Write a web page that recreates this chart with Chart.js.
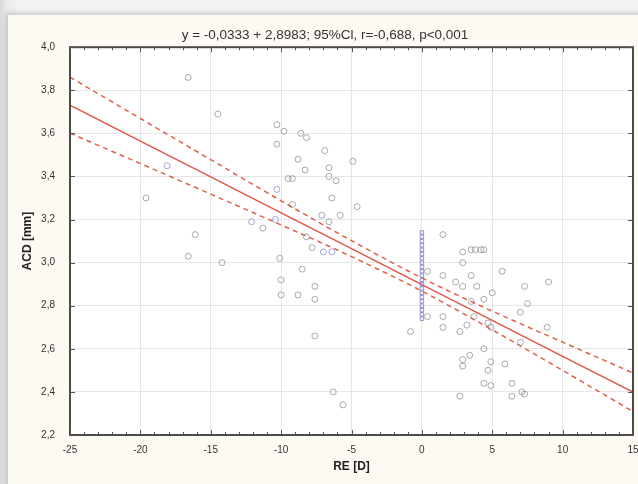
<!DOCTYPE html>
<html>
<head>
<meta charset="utf-8">
<script src="https://cdn.jsdelivr.net/npm/chart.js@4.4.1/dist/chart.umd.min.js"></script>
<style>
  html, body { margin:0; padding:0; }
  body { width:638px; height:484px; overflow:hidden; position:relative;
         background: linear-gradient(90deg, #d9d9d9 0px, #ececec 8px, #f3f3f3 20px); }
  #panel { position:absolute; left:8px; top:15px; width:640px; height:480px;
           background:#fcfaf2; box-shadow: -2px -2px 5px rgba(0,0,0,0.18); }
  #wrap { position:absolute; left:0; top:0; width:638px; height:484px; }
</style>
</head>
<body>
<div id="panel"></div>
<div id="wrap"><canvas id="c" width="638" height="484"></canvas></div>
<script>
// ---- Data ----
const titleText = 'y = -0,0333 + 2,8983; 95%Cl, r=-0,688, p<0,001';
const xTickLabels = ['-25','-20','-15','-10','-5','0','5','10','15'];
const yTickLabels = ['2,2','2,4','2,6','2,8','3,0','3,2','3,4','3,6','3,8','4,0'];

const greyX = [-16.6,-14.5,-19.6,-16.1,-16.6,-14.2,
  -10.3,-9.8,-8.6,-8.2,-10.3,-6.9,-8.8,-4.9,-8.3,-6.6,-9.5,-9.2,-6.6,-6.1,-6.4,-9.2,-4.6,-11.3,-7.1,-5.8,-6.6,-8.2,-7.8,-10.1,-8.5,-10.0,-7.6,-7.6,-10.0,-8.8,-7.6,-6.3,-5.6,
  1.5,2.9,3.5,3.8,4.2,4.4,2.9,0.4,1.5,5.7,3.5,2.4,2.9,3.9,7.3,9.0,5.0,4.4,3.5,7.5,7.0,0.4,1.5,3.7,1.5,3.2,2.7,-0.8,4.7,4.9,8.9,7.0,4.4,2.9,3.4,4.9,4.7,5.9,2.9,4.4,4.9,6.4,7.1,7.3,6.4,2.7];
const greyY = [3.86,3.69,3.30,3.13,3.03,3.00,
  3.64,3.61,3.60,3.58,3.55,3.52,3.48,3.47,3.43,3.44,3.39,3.39,3.40,3.38,3.30,3.27,3.26,3.16,3.22,3.22,3.19,3.12,3.07,3.02,2.97,2.92,2.89,2.83,2.85,2.85,2.66,2.40,2.34,
  3.13,3.05,3.06,3.06,3.06,3.06,3.00,2.96,2.94,2.96,2.94,2.91,2.89,2.89,2.89,2.91,2.86,2.83,2.82,2.81,2.77,2.75,2.75,2.75,2.70,2.71,2.68,2.68,2.72,2.70,2.70,2.63,2.60,2.55,2.57,2.54,2.50,2.53,2.52,2.44,2.43,2.44,2.40,2.39,2.38,2.38];

const blueX = [-18.1,-12.1,-10.3,-10.4,-7.0,-6.4];
const blueY = [3.45,3.19,3.34,3.20,3.05,3.05];

const zeroColY = [2.74,2.76,2.78,2.80,2.82,2.84,2.86,2.88,2.90,2.92,2.94,2.96,2.98,3.00,3.02,3.04,3.06,3.08,3.10,3.12,3.14];

const lineX  = [-25,-20,-15,-10,-5,0,5,10,15];
const fitY   = [3.731,3.564,3.398,3.231,3.065,2.898,2.732,2.565,2.399];
const upperY = [3.861,3.669,3.478,3.287,3.102,2.929,2.775,2.631,2.488];
const lowerY = [3.601,3.460,3.318,3.175,3.028,2.868,2.688,2.500,2.309];

// ---- build datasets ----
const pts = (xs, ys) => xs.map((x, i) => ({x, y: ys[i]}));
const greyPts = pts(greyX, greyY);
const bluePts = pts(blueX, blueY);
const zeroPts = zeroColY.map(y => ({x: 0, y}));
const fitPts = pts(lineX, fitY);
const upPts = pts(lineX, upperY);
const loPts = pts(lineX, lowerY);

const FONT = 'Liberation Sans, Arial, sans-serif';

const frame = {
  id: 'frame',
  beforeDraw(chart) {
    const {ctx, chartArea: a} = chart;
    ctx.save();
    ctx.fillStyle = '#ffffff';
    ctx.fillRect(a.left, a.top, a.right - a.left, a.bottom - a.top);
    ctx.restore();
  },
  afterDraw(chart) {
    const {ctx, chartArea: a, scales} = chart;
    ctx.save();
    ctx.strokeStyle = '#4a4a4a';
    ctx.lineWidth = 2;
    ctx.strokeRect(a.left, a.top, a.right - a.left, a.bottom - a.top);
    ctx.lineWidth = 1;
    ctx.strokeStyle = '#555';
    ctx.beginPath();
    for (let v = -25; v <= 15; v += 1) {
      const px = Math.round(scales.x.getPixelForValue(v)) + 0.5;
      const len = (v % 5 === 0) ? 5 : 3;
      ctx.moveTo(px, a.bottom); ctx.lineTo(px, a.bottom - len);
      ctx.moveTo(px, a.top); ctx.lineTo(px, a.top + len);
    }
    for (let i = 0; i < yTickLabels.length; i++) {
      const py = Math.round(scales.y.getPixelForValue(2.2 + 0.2 * i)) + 0.5;
      ctx.moveTo(a.left, py); ctx.lineTo(a.left + 5, py);
      ctx.moveTo(a.right, py); ctx.lineTo(a.right - 5, py);
    }
    ctx.stroke();
    ctx.restore();
  }
};

new Chart(document.getElementById('c'), {
  type: 'scatter',
  data: {
    datasets: [
      { data: greyPts, pointStyle: 'circle', pointRadius: 3, borderWidth: 1,
        borderColor: 'rgba(140,140,150,0.75)', backgroundColor: 'rgba(0,0,0,0)' },
      { data: bluePts, pointStyle: 'circle', pointRadius: 3, borderWidth: 1,
        borderColor: 'rgba(140,145,215,0.8)', backgroundColor: 'rgba(0,0,0,0)' },
      { data: zeroPts, pointStyle: 'rect', pointRadius: 2.5, borderWidth: 1,
        borderColor: 'rgba(120,120,200,0.8)', backgroundColor: 'rgba(0,0,0,0)' },
      { type: 'line', data: fitPts, showLine: true, pointRadius: 0, borderWidth: 1.5,
        borderColor: '#e0574a', fill: false },
      { type: 'line', data: upPts, showLine: true, pointRadius: 0, borderWidth: 1.5,
        borderColor: '#e2604a', borderDash: [5, 4], cubicInterpolationMode: 'monotone', fill: false },
      { type: 'line', data: loPts, showLine: true, pointRadius: 0, borderWidth: 1.5,
        borderColor: '#e2604a', borderDash: [5, 4], cubicInterpolationMode: 'monotone', fill: false }
    ]
  },
  options: {
    responsive: false,
    animation: false,
    events: [],
    layout: { padding: { left: 16, right: 4, top: 0, bottom: 0 } },
    plugins: {
      legend: { display: false },
      tooltip: { enabled: false },
      title: { display: true, text: titleText, color: '#333',
        font: { family: FONT, size: 13.5, weight: 'normal', lineHeight: 1.2 },
        padding: { top: 27, bottom: 4 } }
    },
    scales: {
      x: {
        type: 'linear', min: -25, max: 15,
        afterFit(s) { s.height = 49; s.paddingLeft = 0; s.paddingRight = 0; },
        ticks: { stepSize: 5, padding: 9, color: '#333', maxRotation: 0,
          font: { family: FONT, size: 10 },
          callback: (v, i) => xTickLabels[i] },
        grid: { color: '#e6e6e6', drawTicks: false },
        border: { display: false },
        title: { display: true, text: 'RE [D]', color: '#222', padding: { top: 0, bottom: 10 },
          font: { family: FONT, size: 12, weight: 'bold' } }
      },
      y: {
        type: 'linear', min: 2.2, max: 4.0,
        afterFit(s) { s.width = 54; },
        ticks: { stepSize: 0.2, padding: 15, color: '#333',
          font: { family: FONT, size: 10 },
          callback: (v, i) => yTickLabels[i] },
        grid: { color: '#e6e6e6', drawTicks: false },
        border: { display: false },
        title: { display: true, text: 'ACD [mm]', color: '#222', padding: { top: 4, bottom: 0 },
          font: { family: FONT, size: 12, weight: 'bold' } }
      }
    }
  },
  plugins: [frame]
});
</script>
</body>
</html>
